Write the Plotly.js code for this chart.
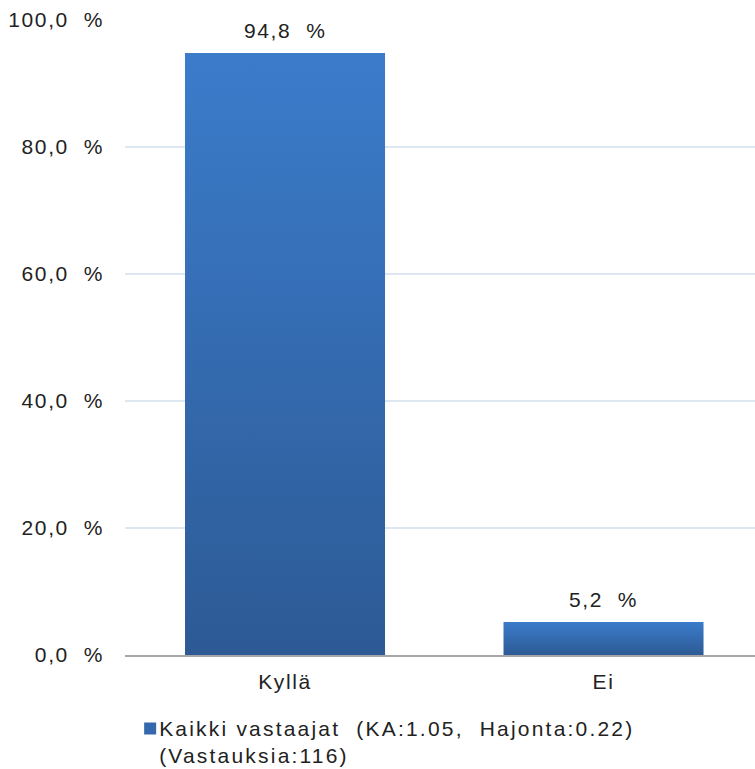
<!DOCTYPE html>
<html>
<head>
<meta charset="utf-8">
<script src="https://cdn.plot.ly/plotly-3.0.1.min.js"></script>
<style>
  body { margin: 0; background: #fff; }
  #chart { width: 755px; height: 769px; }
  svg text { letter-spacing: 1.6px; }
  #chart .legend text { letter-spacing: 2.2px; }
</style>
</head>
<body>
<div id="chart"></div>
<script>
const categories = ["Kyllä", "Ei"];
const values = [94.8, 5.2];
const seriesName = "Kaikki vastaajat  (KA:1.05,  Hajonta:0.22)<br>(Vastauksia:116)";
const yTickVals = [0, 20, 40, 60, 80, 100];
const yTickText = ["0,0  %", "20,0  %", "40,0  %", "60,0  %", "80,0  %", "100,0  %"];

const fmt = v => v.toFixed(1).replace('.', ',') + '\u00a0\u00a0%';
const fontFam = '"Liberation Sans", Arial, sans-serif';
const txtColor = '#222';

const trace = {
  type: 'bar',
  x: categories,
  y: values,
  name: seriesName,
  marker: { color: '#3469ad', line: { width: 0 } },
  width: 0.628,
  showlegend: true,
  hoverinfo: 'skip'
};

const annotations = categories.map((c, i) => ({
  x: c, y: values[i], xref: 'x', yref: 'y',
  text: fmt(values[i]), showarrow: false,
  yanchor: 'bottom', yshift: 9,
  font: { family: fontFam, size: 21, color: txtColor }
}));

const layout = {
  width: 755, height: 769,
  margin: { l: 125, r: 0, t: 20, b: 114, autoexpand: false },
  paper_bgcolor: '#fff', plot_bgcolor: '#fff',
  font: { family: fontFam, size: 21, color: txtColor },
  showlegend: true,
  annotations: annotations,
  xaxis: {
    type: 'category',
    range: [-0.5024, 1.4756], autorange: false,
    showgrid: false, zeroline: false,
    showline: true, linecolor: '#a6a6a6', linewidth: 1.5,
    ticks: '', ticklabelstandoff: 7,
    tickfont: { family: fontFam, size: 21, color: txtColor }
  },
  yaxis: {
    range: [0, 100], autorange: false,
    tickvals: yTickVals, ticktext: yTickText,
    showgrid: true, gridcolor: '#dde7f2', gridwidth: 1.2,
    zeroline: false, showline: false, ticks: '',
    ticklabelstandoff: 20,
    tickfont: { family: fontFam, size: 21, color: txtColor }
  },
  legend: {
    orientation: 'v', x: 0.005, xanchor: 'left', y: -0.083, yanchor: 'top',
    font: { family: fontFam, size: 21, color: txtColor },
    itemwidth: 30, bgcolor: 'rgba(0,0,0,0)', tracegroupgap: 0
  }
};

Plotly.newPlot('chart', [trace], layout, { displayModeBar: false, staticPlot: true }).then(gd => {
  const svg = gd.querySelector('.main-svg');
  const ns = 'http://www.w3.org/2000/svg';
  let defs = svg.querySelector('defs');
  if (!defs) { defs = document.createElementNS(ns, 'defs'); svg.insertBefore(defs, svg.firstChild); }
  const grad = document.createElementNS(ns, 'linearGradient');
  grad.setAttribute('id', 'barGrad');
  grad.setAttribute('x1', '0'); grad.setAttribute('y1', '0');
  grad.setAttribute('x2', '0'); grad.setAttribute('y2', '1');
  [['0', '#3b7ccb'], ['1', '#2d5a95']].forEach(([o, c]) => {
    const s = document.createElementNS(ns, 'stop');
    s.setAttribute('offset', o); s.setAttribute('stop-color', c);
    grad.appendChild(s);
  });
  defs.appendChild(grad);
  gd.querySelectorAll('.bars .point path').forEach(p => { p.style.fill = 'url(#barGrad)'; });
  gd.querySelectorAll('.legend [clip-path]').forEach(el => el.removeAttribute('clip-path'));
  gd.querySelectorAll('.legend .legendtext').forEach(t => t.setAttribute('transform', 'translate(-9,0)'));
  gd.querySelectorAll('.legend .legendsymbols').forEach(s => s.setAttribute('transform', 'translate(2,-13)'));
});
</script>
</body>
</html>
